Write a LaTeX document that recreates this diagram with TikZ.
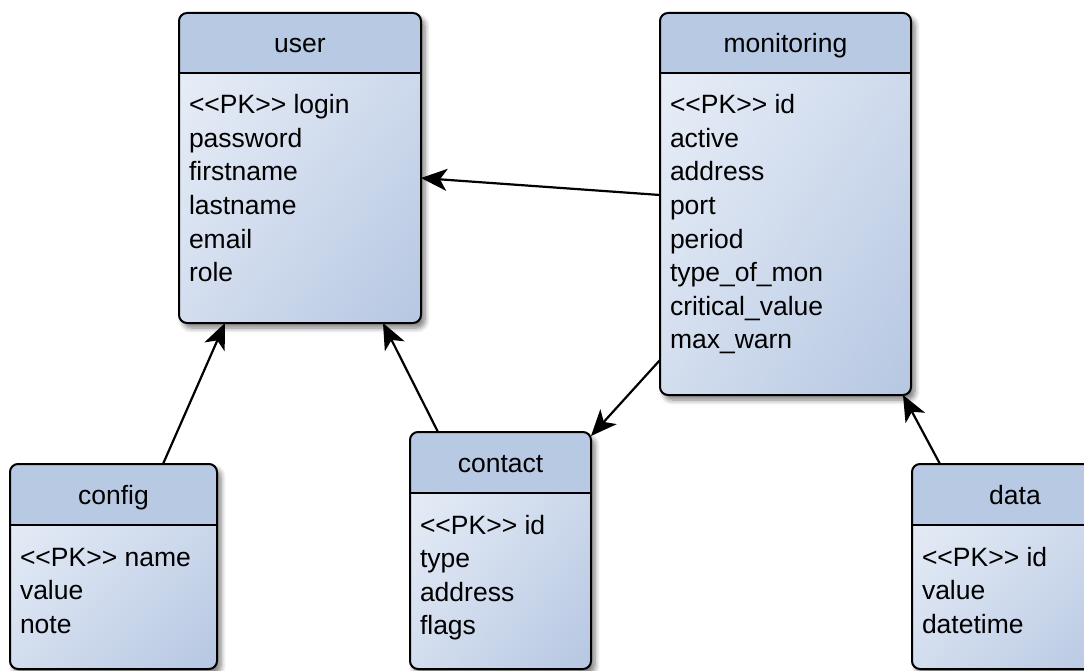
\documentclass[tikz,border=0pt]{standalone}
\usepackage{fontspec}
\setmainfont{Liberation Sans}[Ligatures=TeXOff]
\usetikzlibrary{arrows.meta,fit,shadings,shadows.blur}

\definecolor{headblue}{RGB}{184,201,227}
\definecolor{bodylight}{RGB}{236,241,249}
\definecolor{bodymid}{RGB}{210,221,238}
\definecolor{bodydark}{RGB}{182,199,226}

\tikzset{
  entitybody/.style={rectangle, rounded corners=8pt, inner sep=0pt, outer sep=0pt,
    upper left=bodylight, lower right=bodydark,
    upper right=bodymid, lower left=bodymid,
    blur shadow={shadow xshift=4pt, shadow yshift=-5pt, shadow blur steps=6,
                 shadow opacity=50, shadow blur radius=5pt}},
  entityline/.style={draw=black, line width=2pt, rounded corners=8pt},
  headsep/.style={draw=black, line width=1.8pt},
  entitytext/.style={inner sep=0pt, outer sep=0pt,
    font=\fontsize{26.5}{33.5}\selectfont, text=black},
  conn/.style={draw=black, line width=2.2pt,
    -{Stealth[length=26pt, width=22pt, inset=7pt]}},
}

% #1 name, #2 left, #3 top, #4 right, #5 bottom, #6 header bottom,
% #7 title, #8 attribute lines
\newcommand\erentity[8]{%
  \node[entitybody, fit={(#2,#3) (#4,#5)}] (#1) {};
  \begin{scope}
    \clip[rounded corners=8pt] (#2,#3) rectangle (#4,#5);
    \fill[headblue] (#2,#3) rectangle (#4,#6);
  \end{scope}
  \draw[headsep] (#2,#6) -- (#4,#6);
  \draw[entityline] (#2,#3) rectangle (#4,#5);
  \node[entitytext, anchor=base] (#1-title) at ({(#2+#4)/2},{(#3+#6)/2+10}) {#7};
  \foreach \a [count=\i from 0] in {#8}
    \node[entitytext, anchor=base west] (#1-attr\i) at ({#2+10},{#6+41+33.5*\i}) {\a};
}

\begin{document}
\begin{tikzpicture}[x=1pt, y=-1pt]
  \useasboundingbox (0,0) rectangle (1084,671);
  \clip (0,0) rectangle (1084,671);

  \erentity{user}{179}{13}{421}{323}{73}{user}
    {<<PK>> login, password, firstname, lastname, email, role}
  \erentity{monitoring}{660}{13}{911}{395}{73}{monitoring}
    {<<PK>> id, active, address, port, period, type\_of\_mon, critical\_value, max\_warn}
  \erentity{config}{10}{464}{217}{669}{525}{config}
    {<<PK>> name, value, note}
  \erentity{contact}{410}{432}{591}{669}{493}{contact}
    {<<PK>> id, type, address, flags}
  \erentity{data}{912}{464}{1118}{669}{525}{data}
    {<<PK>> id, value, datetime}

  % relations
  \draw[conn] ([yshift=9pt]monitoring.west) -- ([yshift=-10pt]user.east);
  \draw[conn] ([xshift=49.5pt]config.north) -- ([xshift=-75pt]user.south);
  \draw[conn] ([xshift=-62.5pt]contact.north) -- ([xshift=83pt]user.south);
  \draw[conn] ([yshift=-156pt]monitoring.west) -- ([yshift=-4pt]contact.north east);
  \draw[conn] ([xshift=28pt]data.north west) -- ([xshift=-8pt]monitoring.south east);
\end{tikzpicture}
\end{document}
